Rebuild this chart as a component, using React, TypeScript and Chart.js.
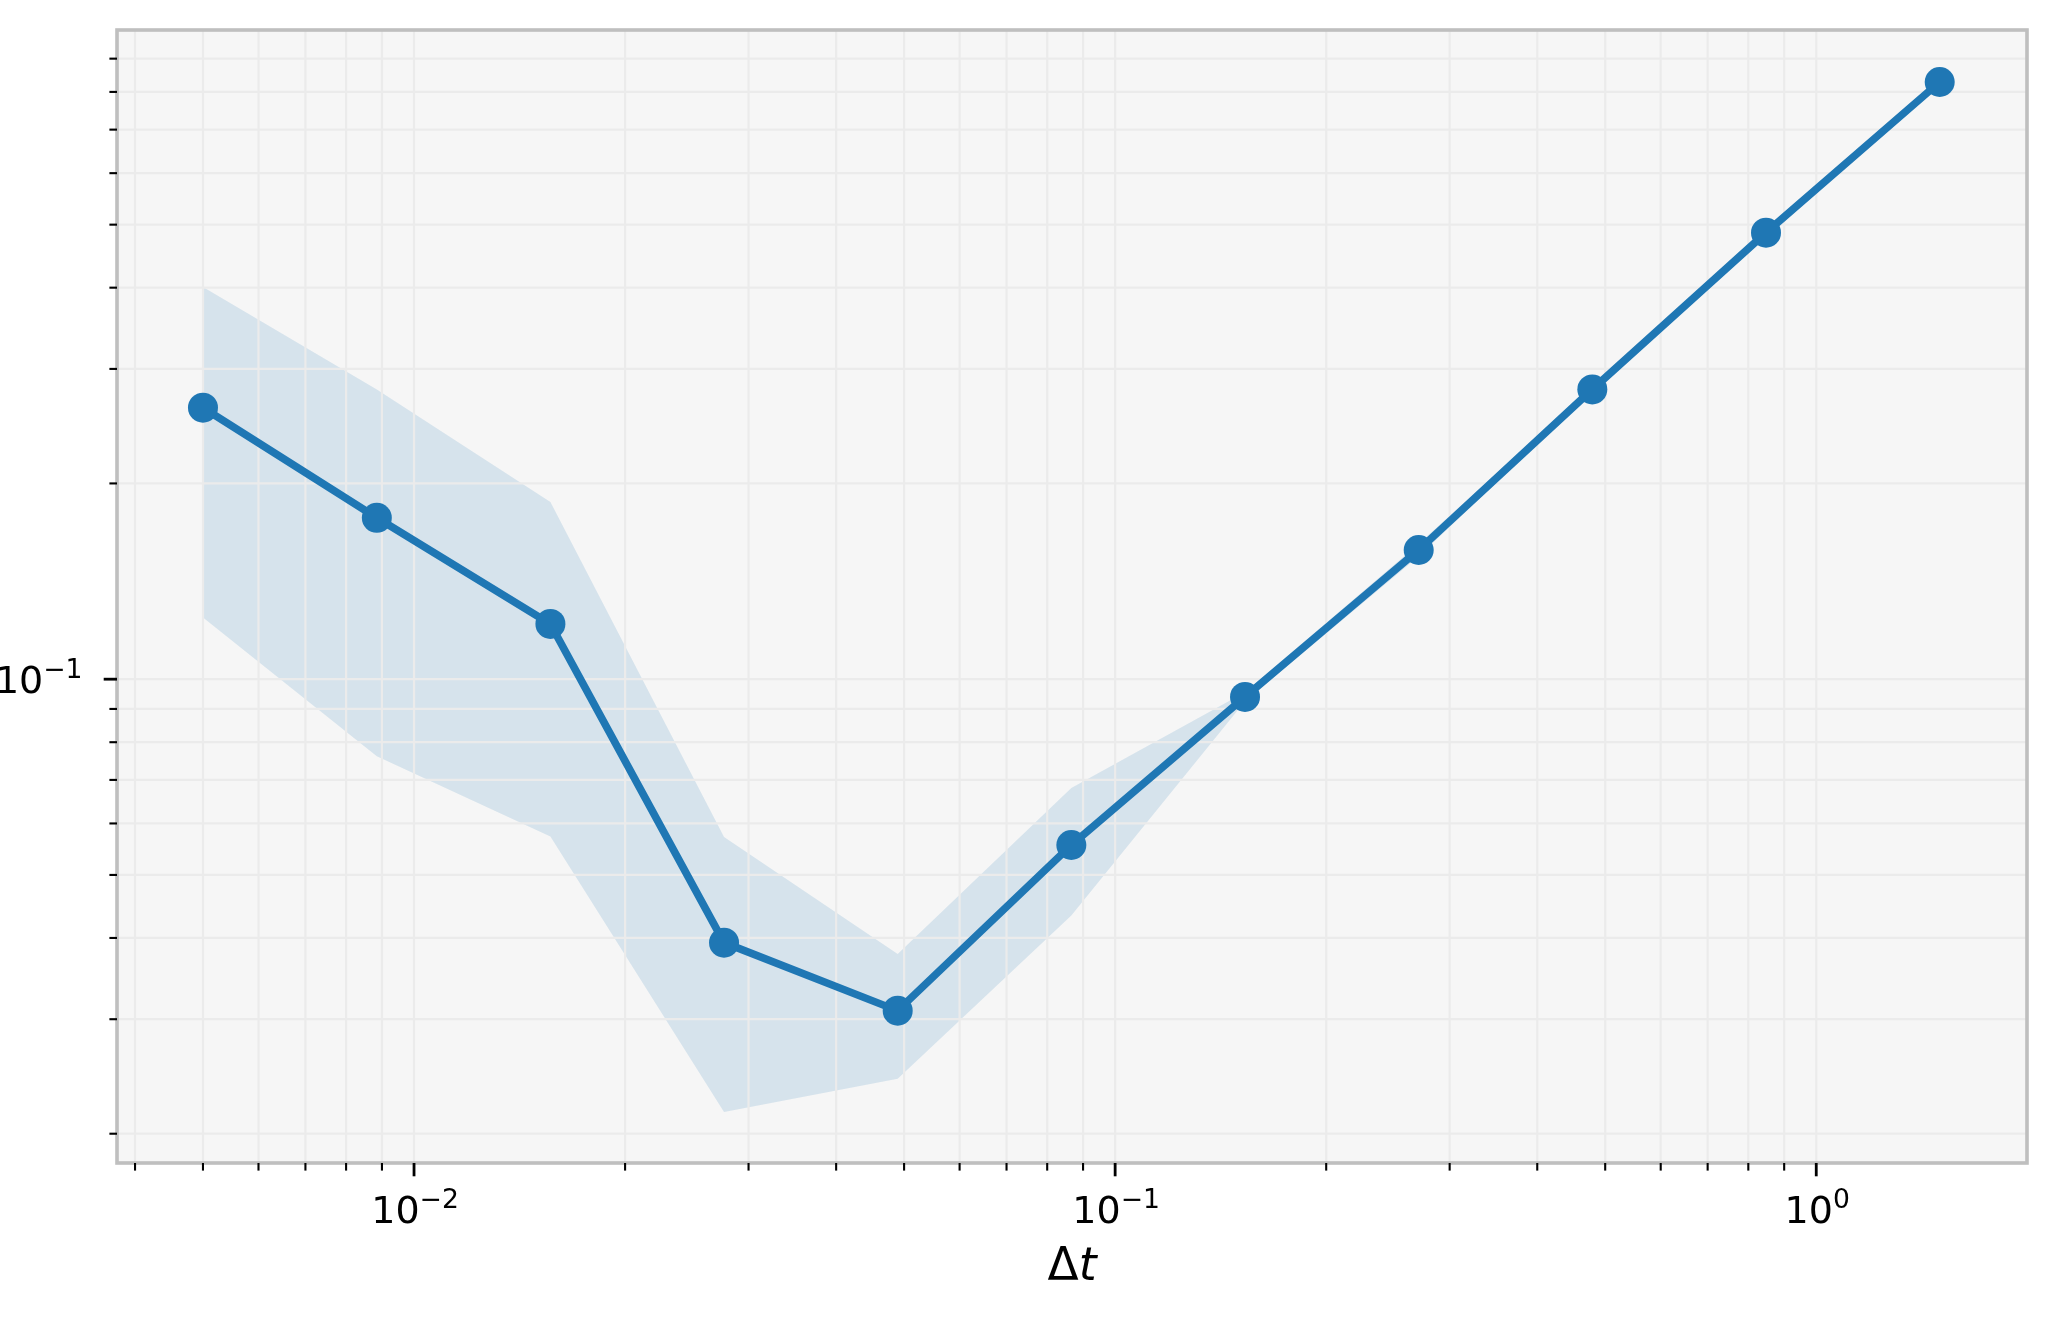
import React, { useEffect, useRef } from 'react';
import { Chart, registerables } from 'chart.js';

Chart.register(...registerables);

// ---- data ----
const DT = [0.005, 0.00885, 0.01565, 0.02768, 0.04896, 0.0866, 0.1532, 0.271, 0.4793, 0.8479, 1.5];
const ERROR_MEAN = [0.2615, 0.1771, 0.1216, 0.03934, 0.03092, 0.05559, 0.0939, 0.158, 0.279, 0.486, 0.8286];
const ERROR_UPPER = [0.401, 0.279, 0.1872, 0.0572, 0.0378, 0.068, 0.0955, 0.1615, 0.2815, 0.4885, 0.832];
const ERROR_LOWER = [0.1244, 0.0761, 0.0573, 0.0216, 0.0243, 0.0433, 0.0925, 0.1545, 0.2765, 0.4835, 0.826];

// ---- ticks / labels ----
const X_MAJOR_TICKS = [0.01, 0.1, 1];
const X_TICK_LABELS = [['10', '−2'], ['10', '−1'], ['10', '0']];
const Y_MAJOR_TICKS = [0.1];
const Y_TICK_LABELS = [['10', '−1']];
const MINOR_MULTIPLIERS = [2, 3, 4, 5, 6, 7, 8, 9];
const X_AXIS_LABEL = ['Δ', 't'];
const X_RANGE = [0.00377, 1.998];
const Y_RANGE = [0.01803, 0.9961];

// ---- style ----
const FONT = '"DejaVu Sans", sans-serif';
const LINE_COLOR = '#1f77b4';
const BAND_COLOR = 'rgba(31,119,180,0.15)';
const BG_COLOR = '#f6f6f6';
const GRID_COLOR = '#ebebeb';
const SPINE_COLOR = '#bfbfbf';
const TICK_SIZE = 38;
const SUP_SIZE = 26.6;
const SUP_RAISE = 15;
const LABEL_SIZE = 45.6;

function logGrid(min: number, max: number) {
  const out: { value: number; major: boolean }[] = [];
  const e0 = Math.floor(Math.log10(min));
  const e1 = Math.ceil(Math.log10(max));
  for (let e = e0; e <= e1; e++) {
    for (const m of [1, ...MINOR_MULTIPLIERS]) {
      const v = parseFloat((m * Math.pow(10, e)).toPrecision(10));
      if (v >= min && v <= max) out.push({ value: v, major: m === 1 });
    }
  }
  return out;
}

function drawPow(ctx: CanvasRenderingContext2D, base: string, exp: string, x: number, baseline: number, align: 'center' | 'right') {
  ctx.font = `${TICK_SIZE}px ${FONT}`;
  const wb = ctx.measureText(base).width;
  ctx.font = `${SUP_SIZE}px ${FONT}`;
  const we = ctx.measureText(exp).width;
  const total = wb + we;
  const x0 = align === 'center' ? x - total / 2 : x - total;
  ctx.textAlign = 'left';
  ctx.textBaseline = 'alphabetic';
  ctx.fillStyle = '#000';
  ctx.font = `${TICK_SIZE}px ${FONT}`;
  ctx.fillText(base, x0, baseline);
  ctx.font = `${SUP_SIZE}px ${FONT}`;
  ctx.fillText(exp, x0 + wb, baseline - SUP_RAISE);
}

const decorPlugin = {
  id: 'mplDecor',
  beforeDraw(chart: any) {
    const { ctx, chartArea: a } = chart;
    ctx.save();
    ctx.fillStyle = BG_COLOR;
    ctx.fillRect(a.left, a.top, a.right - a.left, a.bottom - a.top);
    ctx.restore();
  },
  beforeDatasetDraw(chart: any, args: any) {
    if (args.index !== 0) return;
    const { ctx, chartArea: a, scales } = chart;
    ctx.save();
    ctx.beginPath();
    ctx.rect(a.left, a.top, a.right - a.left, a.bottom - a.top);
    ctx.clip();
    ctx.strokeStyle = GRID_COLOR;
    ctx.lineWidth = 2.2;
    for (const t of scales.x.ticks) {
      const px = scales.x.getPixelForValue(t.value);
      ctx.beginPath();
      ctx.moveTo(px, a.top);
      ctx.lineTo(px, a.bottom);
      ctx.stroke();
    }
    for (const t of scales.y.ticks) {
      const py = scales.y.getPixelForValue(t.value);
      ctx.beginPath();
      ctx.moveTo(a.left, py);
      ctx.lineTo(a.right, py);
      ctx.stroke();
    }
    ctx.restore();
  },
  afterDraw(chart: any) {
    const { ctx, chartArea: a, scales } = chart;
    ctx.save();
    // spines
    ctx.strokeStyle = SPINE_COLOR;
    ctx.lineWidth = 3.6;
    ctx.strokeRect(a.left, a.top, a.right - a.left, a.bottom - a.top);
    // tick marks
    ctx.strokeStyle = '#000';
    for (const t of scales.x.ticks) {
      const px = scales.x.getPixelForValue(t.value);
      const len = t.major ? 13.3 : 7.6;
      ctx.lineWidth = t.major ? 2.8 : 2.1;
      ctx.beginPath();
      ctx.moveTo(px, a.bottom);
      ctx.lineTo(px, a.bottom + len);
      ctx.stroke();
    }
    for (const t of scales.y.ticks) {
      const py = scales.y.getPixelForValue(t.value);
      const len = t.major ? 13.3 : 7.6;
      ctx.lineWidth = t.major ? 2.8 : 2.1;
      ctx.beginPath();
      ctx.moveTo(a.left - len, py);
      ctx.lineTo(a.left, py);
      ctx.stroke();
    }
    // tick labels
    X_MAJOR_TICKS.forEach((v, i) => {
      const px = scales.x.getPixelForValue(v);
      drawPow(ctx, X_TICK_LABELS[i][0], X_TICK_LABELS[i][1], px + 1, a.bottom + 60, 'center');
    });
    Y_MAJOR_TICKS.forEach((v, i) => {
      const py = scales.y.getPixelForValue(v);
      drawPow(ctx, Y_TICK_LABELS[i][0], Y_TICK_LABELS[i][1], 82.5, py + 13.5, 'right');
    });
    // axis label  Δt  (Δ upright, t italic)
    const cx = (a.left + a.right) / 2;
    ctx.font = `${LABEL_SIZE}px ${FONT}`;
    const w1 = ctx.measureText(X_AXIS_LABEL[0]).width;
    ctx.font = `italic ${LABEL_SIZE}px ${FONT}`;
    const w2 = ctx.measureText(X_AXIS_LABEL[1]).width;
    const x0 = cx - (w1 + w2) / 2;
    const base = 1280;
    ctx.fillStyle = '#000';
    ctx.textAlign = 'left';
    ctx.textBaseline = 'alphabetic';
    ctx.font = `${LABEL_SIZE}px ${FONT}`;
    ctx.fillText(X_AXIS_LABEL[0], x0, base);
    ctx.font = `italic ${LABEL_SIZE}px ${FONT}`;
    ctx.fillText(X_AXIS_LABEL[1], x0 + w1, base);
    ctx.restore();
  },
};

export default function App() {
  const ref = useRef<HTMLCanvasElement | null>(null);

  useEffect(() => {
    const canvas = ref.current;
    if (!canvas) return;
    const xGrid = logGrid(X_RANGE[0], X_RANGE[1]);
    const yGrid = logGrid(Y_RANGE[0], Y_RANGE[1]);
    const transparent = 'rgba(0,0,0,0)';
    const chart = new Chart(canvas, {
      type: 'line',
      data: {
        datasets: [
          {
            label: 'mean',
            data: DT.map((x, i) => ({ x, y: ERROR_MEAN[i] })),
            borderColor: LINE_COLOR,
            backgroundColor: LINE_COLOR,
            borderWidth: 7.6,
            pointRadius: 15,
            pointHoverRadius: 15,
            pointBorderWidth: 0,
            pointBackgroundColor: LINE_COLOR,
            fill: false,
            tension: 0,
          },
          {
            label: 'upper',
            data: DT.map((x, i) => ({ x, y: ERROR_UPPER[i] })),
            borderColor: transparent,
            borderWidth: 0,
            pointRadius: 0,
            backgroundColor: BAND_COLOR,
            fill: '+1',
            tension: 0,
          },
          {
            label: 'lower',
            data: DT.map((x, i) => ({ x, y: ERROR_LOWER[i] })),
            borderColor: transparent,
            borderWidth: 0,
            pointRadius: 0,
            backgroundColor: transparent,
            fill: false,
            tension: 0,
          },
        ],
      } as any,
      options: {
        responsive: false,
        maintainAspectRatio: false,
        devicePixelRatio: 1,
        animation: false,
        events: [],
        layout: { padding: { top: 30, right: 29, left: 0, bottom: 0 } },
        plugins: { legend: { display: false }, tooltip: { enabled: false } },
        scales: {
          x: {
            type: 'logarithmic',
            position: 'bottom',
            min: X_RANGE[0],
            max: X_RANGE[1],
            grid: { display: false, drawTicks: false },
            border: { display: false },
            ticks: { display: false },
            afterBuildTicks: (s: any) => {
              s.ticks = xGrid.map((t) => ({ value: t.value, major: t.major }));
            },
            afterFit: (s: any) => {
              s.height = 162;
            },
          },
          y: {
            type: 'logarithmic',
            position: 'left',
            min: Y_RANGE[0],
            max: Y_RANGE[1],
            grid: { display: false, drawTicks: false },
            border: { display: false },
            ticks: { display: false },
            afterBuildTicks: (s: any) => {
              s.ticks = yGrid.map((t) => ({ value: t.value, major: t.major }));
            },
            afterFit: (s: any) => {
              s.width = 117;
            },
          },
        },
      } as any,
      plugins: [decorPlugin as any],
    });
    return () => chart.destroy();
  }, []);

  return (
    <div style={{ position: 'fixed', left: 0, top: 0, width: 2056, height: 1325, background: '#fff' }}>
      <canvas ref={ref} width={2056} height={1325} style={{ display: 'block', width: 2056, height: 1325 }} />
    </div>
  );
}
